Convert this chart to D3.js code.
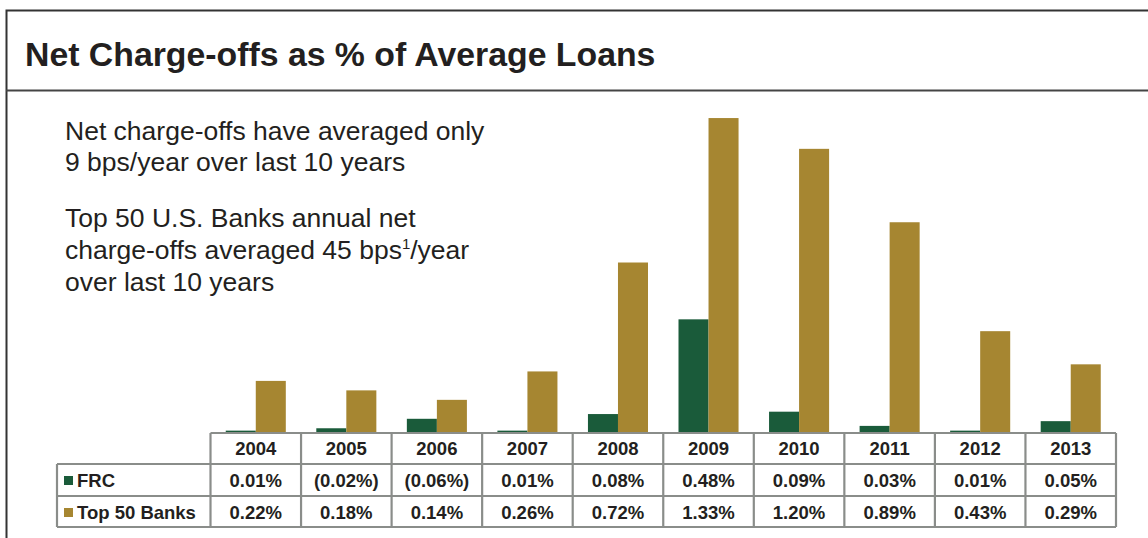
<!DOCTYPE html>
<html>
<head>
<meta charset="utf-8">
<script src="https://cdn.jsdelivr.net/npm/d3@7"></script>
<style>
  html, body { margin: 0; padding: 0; background: #fff; }
  svg { display: block; font-family: "Liberation Sans", Arial, Helvetica, sans-serif; }
</style>
</head>
<body>
<div id="chart"></div>
<script>
// Net charge-offs chart data
const years = ['2004', '2005', '2006', '2007', '2008', '2009', '2010', '2011', '2012', '2013'];
const seriesNames = ['FRC', 'Top 50 Banks'];
const frcValues = [0.01, -0.02, -0.06, 0.01, 0.08, 0.48, 0.09, 0.03, 0.01, 0.05];
const top50Values = [0.22, 0.18, 0.14, 0.26, 0.72, 1.33, 1.20, 0.89, 0.43, 0.29];
const seriesColors = ['#1a5b3a', '#a68631'];
const noteLines = [
  ['Net charge-offs have averaged only'],
  ['9 bps/year over last 10 years'],
  ['Top 50 U.S. Banks annual net'],
  ['charge-offs averaged 45 bps', '1', '/year'],
  ['over last 10 years']
];

const width = 1148, height = 538;
const textColor = '#231f20', gridColor = '#8a8d8a';

const svg = d3.select('#chart').append('svg')
    .attr('width', width)
    .attr('height', height);

// Frame + title
svg.append('path')
   .attr('d', `M6.5,${height} V10.5 H${width}`)
   .attr('fill', 'none')
   .attr('stroke', '#333')
   .attr('stroke-width', 2);
svg.append('line')
   .attr('x1', 6).attr('x2', width)
   .attr('y1', 90.5).attr('y2', 90.5)
   .attr('stroke', '#444')
   .attr('stroke-width', 2);
svg.append('text')
   .attr('x', 25)
   .attr('y', 66)
   .attr('fill', textColor)
   .attr('font-weight', 'bold')
   .attr('font-size', 33.8)
   .text('Net Charge-offs as % of Average Loans');

// Commentary text
const noteY = [140, 171, 227, 259, 291];
noteLines.forEach((parts, i) => {
  const t = svg.append('text')
     .attr('x', 65)
     .attr('y', noteY[i])
     .attr('fill', textColor)
     .attr('font-size', 26.5);
  t.append('tspan').text(parts[0]);
  if (parts.length > 1) {
    t.append('tspan').attr('font-size', 15).attr('dy', -10).text(parts[1]);
    t.append('tspan').attr('dy', 10).text(parts[2]);
  }
});

// Scales
const tableLeft = 210.5, tableRight = 1116, labelLeft = 57;
const baseY = 433;
const x = d3.scaleBand()
    .domain(years)
    .range([tableLeft, tableRight]);
const x1 = d3.scaleBand()
    .domain(seriesNames)
    .range([15.25, x.bandwidth() - 15.25]);
const y = d3.scaleLinear()
    .domain([0, 1.4])
    .range([baseY, baseY - 1.4 * 236.8]);

const data = years.map((yr, i) => ({
  year: yr,
  values: [
    {key: seriesNames[0], v: frcValues[i]},
    {key: seriesNames[1], v: top50Values[i]}
  ]
}));

// Bars (FRC recoveries plotted by magnitude)
svg.append('g')
   .selectAll('g')
   .data(data)
   .join('g')
     .attr('transform', d => `translate(${x(d.year)},0)`)
   .selectAll('rect')
   .data(d => d.values)
   .join('rect')
     .attr('x', d => x1(d.key))
     .attr('width', x1.bandwidth())
     .attr('y', d => y(Math.abs(d.v)))
     .attr('height', d => baseY - y(Math.abs(d.v)))
     .attr('fill', (d, i) => seriesColors[i]);

// Data table
const rowTop = [433, 464, 496, 527];
const fmt = v => v < 0 ? `(${d3.format('.2f')(-v)}%)` : `${d3.format('.2f')(v)}%`;
const table = svg.append('g')
   .attr('stroke', gridColor)
   .attr('stroke-width', 2.2)
   .attr('fill', 'none');

// horizontal lines
table.append('line').attr('x1', tableLeft).attr('x2', tableRight).attr('y1', rowTop[0]).attr('y2', rowTop[0]);
[1, 2, 3].forEach(r => {
  table.append('line')
     .attr('x1', labelLeft).attr('x2', tableRight)
     .attr('y1', rowTop[r]).attr('y2', rowTop[r]);
});
// vertical lines
table.append('line').attr('x1', labelLeft).attr('x2', labelLeft).attr('y1', rowTop[1]).attr('y2', rowTop[3]);
years.forEach(yr => {
  table.append('line')
     .attr('x1', x(yr)).attr('x2', x(yr))
     .attr('y1', rowTop[0]).attr('y2', rowTop[3]);
});
table.append('line').attr('x1', tableRight).attr('x2', tableRight).attr('y1', rowTop[0]).attr('y2', rowTop[3]);

const cellText = svg.append('g')
   .attr('font-size', 18.5)
   .attr('font-weight', 'bold')
   .attr('fill', textColor)
   .attr('text-anchor', 'middle');

cellText.selectAll('.yr')
   .data(years)
   .join('text')
     .attr('class', 'yr')
     .attr('x', d => x(d) + x.bandwidth() / 2)
     .attr('y', 455)
     .text(d => d);

[frcValues, top50Values].forEach((vals, r) => {
  cellText.selectAll(`.v${r}`)
     .data(vals)
     .join('text')
       .attr('class', `v${r}`)
       .attr('x', (d, i) => x(years[i]) + x.bandwidth() / 2)
       .attr('y', 487 + r * 32)
       .text(d => fmt(d));
});

// Row labels with legend swatches
seriesNames.forEach((name, r) => {
  svg.append('rect')
     .attr('x', 64)
     .attr('y', 476 + r * 32)
     .attr('width', 9)
     .attr('height', 9)
     .attr('fill', seriesColors[r]);
  svg.append('text')
     .attr('x', 77)
     .attr('y', 487 + r * 32)
     .attr('font-size', 18.5)
     .attr('font-weight', 'bold')
     .attr('fill', textColor)
     .text(name);
});
</script>
</body>
</html>
